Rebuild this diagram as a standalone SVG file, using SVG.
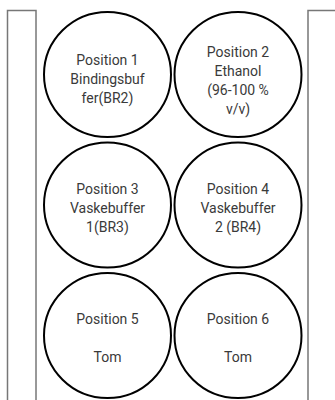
<svg xmlns="http://www.w3.org/2000/svg" width="335" height="400" viewBox="0 0 335 400">
<style>
.rail{fill:#fff;stroke:#777;stroke-width:1.5}
.pos{fill:#fff;stroke:#000;stroke-width:2}
.lbl{font-family:Roboto,"Liberation Sans",sans-serif;font-size:14px;fill:#3a3a3a;text-anchor:middle}
</style>
<rect width="335" height="400" fill="#fff"/>
<rect class="rail" x="7.5" y="10.5" width="28.5" height="400"/>
<rect class="rail" x="308" y="10.5" width="40" height="400"/>
<g id="pos1"><ellipse class="pos" cx="107.5" cy="74.5" rx="63.5" ry="62.5"/>
<text class="lbl" x="107.5" y="65">Position 1</text><text class="lbl" x="107.5" y="84">Bindingsbuf</text><text class="lbl" x="107.5" y="103">fer(BR2)</text></g>
<g id="pos2"><ellipse class="pos" cx="238" cy="74.5" rx="63.5" ry="62.5"/>
<text class="lbl" x="238" y="57">Position 2</text><text class="lbl" x="238" y="76">Ethanol</text><text class="lbl" x="238" y="95">(96-100 %</text><text class="lbl" x="238" y="114">v/v)</text></g>
<g id="pos3"><ellipse class="pos" cx="107.5" cy="205" rx="63.5" ry="62.5"/>
<text class="lbl" x="107.5" y="194">Position 3</text><text class="lbl" x="107.5" y="213">Vaskebuffer</text><text class="lbl" x="107.5" y="232">1(BR3)</text></g>
<g id="pos4"><ellipse class="pos" cx="238" cy="205" rx="63.5" ry="62.5"/>
<text class="lbl" x="238" y="194">Position 4</text><text class="lbl" x="238" y="213">Vaskebuffer</text><text class="lbl" x="238" y="232">2 (BR4)</text></g>
<g id="pos5"><ellipse class="pos" cx="107.5" cy="335.5" rx="63.5" ry="62.5"/>
<text class="lbl" x="107.5" y="324">Position 5</text><text class="lbl" x="107.5" y="362">Tom</text></g>
<g id="pos6"><ellipse class="pos" cx="238" cy="335.5" rx="63.5" ry="62.5"/>
<text class="lbl" x="238" y="324">Position 6</text><text class="lbl" x="238" y="362">Tom</text></g>
<g id="connectors"/>
</svg>
